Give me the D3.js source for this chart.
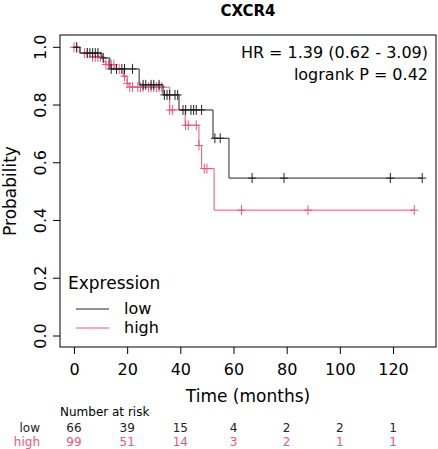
<!DOCTYPE html><html><head><script src="https://d3js.org/d3.v7.min.js"></script>
<style>body{margin:0;background:#fff}text{font-family:"DejaVu Sans",sans-serif}</style></head><body><svg id="c" width="438" height="449"></svg>
<script>
const lowT=[0,2.3,10.5,13.5,24.5,33.5,39.5,52.3,58.3,131];
const lowS=[1,0.98,0.963,0.925,0.87,0.835,0.783,0.685,0.547,0.547];
const lowC=[1,5,6,7,8,9,11,14,16,18,19,22,26,27,29,30,32,34,35,36,38,39,41,42,44,45,46,48,53,55,67,79,119,131];
const highT=[0,2,7,11,12,15.4,18.5,20,20.7,36,41.8,47,48,52.7,128];
const highS=[1,0.98,0.967,0.95,0.94,0.925,0.9,0.875,0.862,0.783,0.73,0.66,0.58,0.436,0.436];
const highC=[0,1,4,5,7,8,9,10,12,13,14,15,16,17,19,20,21,22,24,25,26,28,29,30,31,32,33,36,37,42,43,46,47,49,50,63,88,128];
const xTicks=[0,20,40,60,80,100,120], yTicks=[0,0.2,0.4,0.6,0.8,1.0];
const riskLow=[66,39,15,4,2,2,1], riskHigh=[99,51,14,3,2,1,1];
const cLow="#222", cHigh="#e8577a";
const svg=d3.select("#c");
const x=d3.scaleLinear().domain([0,120]).range([74,393]);
const y=d3.scaleLinear().domain([0,1]).range([336,47.3]);
svg.append("rect").attr("x",60).attr("y",35).attr("width",376).attr("height",312).attr("fill","none").attr("stroke","#000");
svg.append("text").attr("x",248).attr("y",16).attr("text-anchor","middle").attr("font-weight","bold").attr("font-size",15).text("CXCR4");
const xa=svg.append("g").attr("transform","translate(0,347)").call(d3.axisBottom(x).tickValues(xTicks).tickSize(7).tickSizeOuter(0));
xa.select(".domain").remove();xa.selectAll("text").attr("font-size",16).attr("dy","1.1em").attr("fill","#000").style("font-family","DejaVu Sans");
const ya=svg.append("g").attr("transform","translate(60,0)").call(d3.axisLeft(y).tickValues(yTicks).tickSize(7).tickFormat(d3.format(".1f")));
ya.select(".domain").remove();
ya.selectAll(".tick").attr("transform","translate(0,0)").each(function(d){
  const g=d3.select(this);g.select("line").attr("y1",y(d)).attr("y2",y(d));
  g.select("text").attr("font-size",16).attr("x",0).attr("y",0).attr("dy","0.35em").attr("text-anchor","middle").attr("fill","#000")
   .style("font-family","DejaVu Sans").attr("transform",`translate(-20,${y(d)}) rotate(-90)`);});
svg.append("text").attr("transform","translate(10,191) rotate(-90)").attr("text-anchor","middle").attr("dy","0.35em").attr("font-size",17).text("Probability");
svg.append("text").attr("x",248).attr("y",402).attr("text-anchor","middle").attr("font-size",17).text("Time (months)");
function curve(T,S,C,col){
  const pts=T.map((t,i)=>[t,S[i]]);
  svg.append("path").datum(pts).attr("fill","none").attr("stroke",col).attr("stroke-width",1)
   .attr("d",d3.line().x(d=>x(d[0])).y(d=>y(d[1])).curve(d3.curveStepAfter));
  const sAt=t=>{let s=1;for(let i=0;i<T.length;i++)if(T[i]<=t)s=S[i];return s;};
  C.forEach(t=>{const cx=x(t),cy=y(sAt(t));
   svg.append("path").attr("d",`M${cx-4},${cy}H${cx+4}M${cx},${cy-5}V${cy+5}`).attr("stroke",col).attr("stroke-width",1);});
}
curve(highT,highS,highC,cHigh);
curve(lowT,lowS,lowC,cLow);
svg.append("text").attr("x",428).attr("y",58).attr("text-anchor","end").attr("font-size",16).text("HR = 1.39 (0.62 - 3.09)");
svg.append("text").attr("x",428).attr("y",80).attr("text-anchor","end").attr("font-size",16).text("logrank P = 0.42");
svg.append("text").attr("x",68).attr("y",289).attr("font-size",17).text("Expression");
[["low",cLow,309],["high",cHigh,328]].forEach(([t,c,yy])=>{
  svg.append("line").attr("x1",76).attr("x2",109).attr("y1",yy).attr("y2",yy).attr("stroke",c);
  svg.append("text").attr("x",124).attr("y",yy+5).attr("font-size",16).text(t);});
svg.append("text").attr("x",60).attr("y",416).attr("font-size",12).text("Number at risk");
svg.append("text").attr("x",40).attr("y",432).attr("text-anchor","end").attr("font-size",12).attr("fill",cLow).text("low");
svg.append("text").attr("x",40).attr("y",446).attr("text-anchor","end").attr("font-size",12).attr("fill",cHigh).text("high");
xTicks.forEach((t,i)=>{
  svg.append("text").attr("x",x(t)).attr("y",432).attr("text-anchor","middle").attr("font-size",12).attr("fill",cLow).text(riskLow[i]);
  svg.append("text").attr("x",x(t)).attr("y",446).attr("text-anchor","middle").attr("font-size",12).attr("fill",cHigh).text(riskHigh[i]);});
</script></body></html>
